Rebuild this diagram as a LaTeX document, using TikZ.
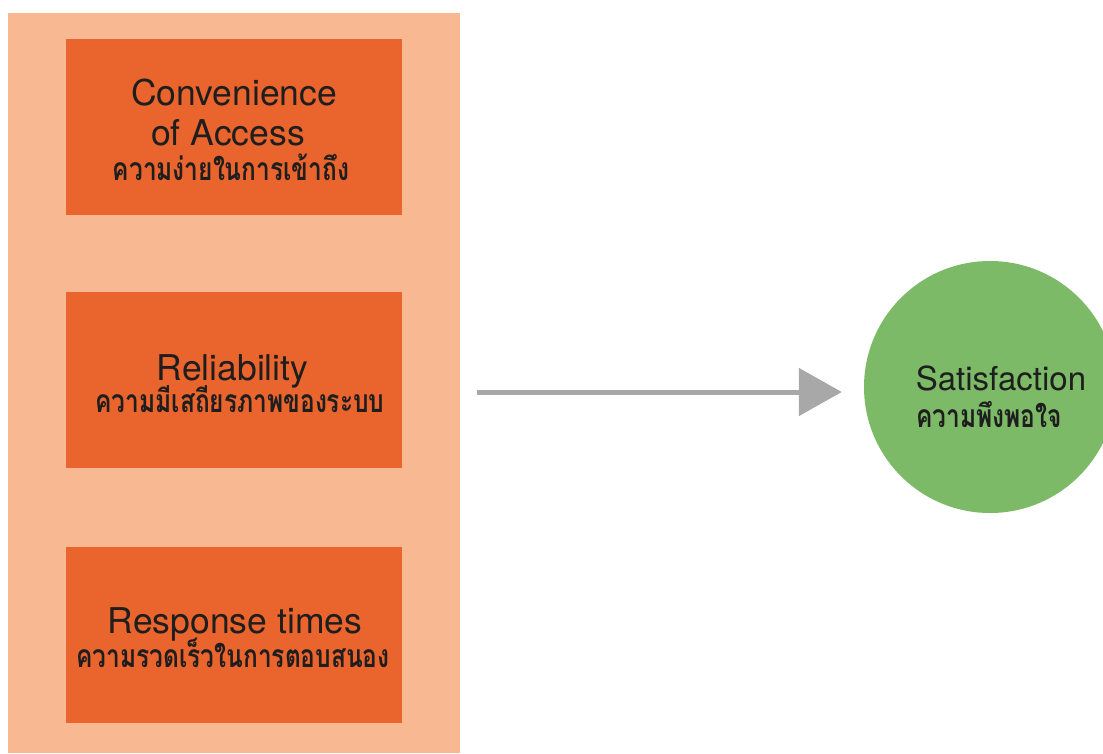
\documentclass[tikz,border=0pt]{standalone}
\usepackage{fontspec}
\setmainfont{TeX Gyre Heros}
\newfontfamily\thai[Script=Thai]{Loma}
\usetikzlibrary{arrows.meta,shapes.geometric}
\definecolor{panelc}{HTML}{F8B992}
\definecolor{boxc}{HTML}{EA642D}
\definecolor{greenc}{HTML}{7CBA67}
\definecolor{arrowc}{HTML}{A8A8A8}
\definecolor{txtc}{HTML}{1E1E1E}
\newcommand{\thline}[1]{\scalebox{1}[1.3]{#1}}
\tikzset{
  panelbox/.style={fill=panelc, draw=none, inner sep=0pt, anchor=north west},
  factorbox/.style={fill=boxc, draw=none, inner sep=0pt, minimum width=336pt, minimum height=176pt},
  entxt/.style={anchor=base, inner sep=0pt, text=txtc, font=\fontsize{35.5}{38}\selectfont},
  thtxt/.style={anchor=base, inner sep=0pt, text=txtc, font=\thai\bfseries\fontsize{24.5}{28}\selectfont},
  goalnode/.style={circle, fill=greenc, draw=none, minimum size=252pt, inner sep=0pt},
  flow/.style={draw=arrowc, line width=5pt, -{Triangle[length=43pt,width=47pt]}}
}
\begin{document}
\begin{tikzpicture}[x=1pt,y=-1pt]
\useasboundingbox (0,0) rectangle (1103,753);
\fill[white] (0,0) rectangle (1103,753);
\begin{scope}
\clip (0,0) rectangle (1103,753);
\node[panelbox, minimum width=452pt, minimum height=740pt] (panel) at (8,13) {};
\node[factorbox] (b1) at (234,127) {};
\node[factorbox] (b2) at (234,379.5) {};
\node[factorbox] (b3) at (234,634.5) {};
\node[entxt] (b1a) at (234,105) {Convenience};
\node[entxt] (b1b) at (228,145) {of Access};
\node[thtxt] (b1c) at (231,180) {\thline{ความง่ายในการเข้าถึง}};
\node[entxt] (b2a) at (232.5,380) {Reliability};
\node[thtxt] (b2b) at (240,412) {\thline{ความมีเสถียรภาพของระบบ}};
\node[entxt] (b3a) at (235,633) {Response times};
\node[thtxt] (b3b) at (233,667) {\thline{ความรวดเร็วในการตอบสนอง}};
\node[goalnode] (goal) at (990,387) {};
\node[entxt, font=\fontsize{33}{36}\selectfont] (ga) at (1001,390) {Satisfaction};
\node[thtxt] (gb) at (989,427) {\thline{ความพึงพอใจ}};
\coordinate (start) at (477,392);
\draw[flow, shorten >=22pt] (start) -- (goal.west |- start);
\end{scope}
\end{tikzpicture}
\end{document}
